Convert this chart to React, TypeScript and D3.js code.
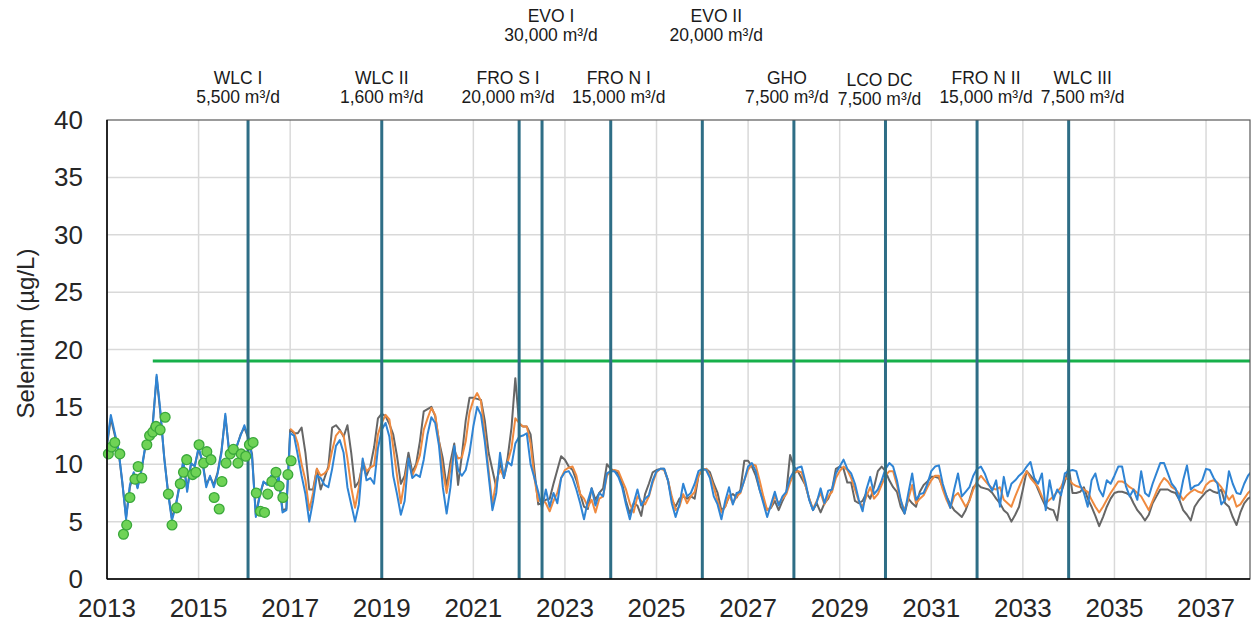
import React from 'react';
import * as d3 from 'd3';

// ---- Data -----------------------------------------------------------------

// Monthly modelled selenium (µg/L), first value = January of the start year
const SERIES_START_YEAR = 2013;
const ORANGE_START_YEAR = 2017;

const blueSeries = [
  11.8, 14.3, 12.8, 11.3, 8.5, 5.2, 8.2, 9.3, 7.9, 9.5, 11.5, 12.6, // 2013
  13.4, 17.8, 14.6, 10.5, 7.5, 5.1, 6.3, 8.1, 10.4, 7.6, 10.1, 9.8, // 2014
  11.5, 10.2, 8.0, 9.0, 8.0, 9.2, 11.0, 14.4, 11.0, 11.2, 11.6, 12.5, // 2015
  13.4, 12.4, 10.7, 5.4, 7.2, 8.5, 8.2, 9.0, 8.0, 8.9, 5.8, 6.0, // 2016
  12.7, 12.5, 10.8, 9.0, 7.4, 5.0, 6.8, 9.0, 8.8, 8.2, 8.0, 9.6, // 2017
  11.6, 12.1, 11.0, 8.0, 6.5, 5.0, 6.5, 10.5, 8.6, 8.8, 8.3, 11.4, // 2018
  13.0, 13.6, 12.4, 9.0, 7.4, 5.6, 6.8, 10.5, 8.8, 9.1, 8.9, 10.4, // 2019
  12.6, 14.1, 13.6, 11.6, 8.0, 5.7, 8.0, 11.6, 9.5, 9.0, 9.5, 11.0, // 2020
  13.3, 15.0, 14.3, 12.0, 9.0, 6.0, 7.5, 11.0, 8.8, 10.2, 9.9, 11.8, // 2021
  12.4, 12.5, 12.7, 10.0, 8.8, 7.6, 6.2, 7.8, 6.3, 7.5, 6.6, 8.8, // 2022
  9.3, 9.4, 8.8, 7.8, 6.6, 5.2, 6.8, 7.9, 6.4, 7.5, 7.2, 9.2, // 2023
  9.4, 9.4, 8.9, 8.0, 6.5, 5.2, 6.6, 7.8, 6.4, 7.0, 7.3, 8.6, // 2024
  9.4, 9.6, 9.6, 8.6, 6.6, 5.4, 6.5, 8.3, 7.2, 7.5, 8.3, 9.4, // 2025
  9.6, 9.5, 8.8, 7.2, 6.5, 5.2, 6.8, 8.0, 6.5, 7.5, 7.6, 8.6, // 2026
  9.8, 10.1, 9.4, 7.8, 6.6, 5.4, 6.5, 7.6, 6.4, 7.2, 7.6, 8.8, // 2027
  9.4, 9.7, 9.8, 8.5, 6.9, 6.0, 6.7, 7.9, 6.6, 7.7, 7.8, 9.2, // 2028
  9.8, 10.4, 9.6, 9.2, 8.3, 6.9, 5.9, 7.8, 8.9, 7.4, 7.8, 8.6, // 2029
  9.6, 10.1, 9.8, 8.6, 6.9, 5.7, 7.5, 9.2, 6.9, 7.4, 7.5, 8.3, // 2030
  9.4, 9.8, 9.9, 8.3, 7.2, 6.2, 7.8, 9.2, 7.2, 7.6, 8.0, 9.0, // 2031
  9.6, 9.8, 9.2, 8.3, 7.7, 8.6, 6.3, 8.9, 7.2, 8.3, 8.6, 9.0, // 2032
  9.3, 9.8, 10.2, 8.8, 8.3, 9.2, 6.0, 8.6, 6.9, 7.8, 7.3, 9.2, // 2033
  9.4, 9.5, 9.4, 8.2, 7.5, 6.3, 8.6, 9.2, 7.8, 7.2, 8.6, 8.3, // 2034
  9.0, 9.8, 9.8, 8.1, 7.2, 7.8, 6.9, 9.4, 7.5, 7.2, 8.3, 9.2, // 2035
  10.1, 10.1, 9.2, 8.3, 7.9, 6.9, 8.6, 9.9, 7.8, 8.1, 8.2, 8.6, // 2036
  9.6, 9.5, 8.8, 8.3, 6.5, 6.9, 9.4, 8.3, 7.5, 7.4, 8.3, 9.0, // 2037
  9.4, // 2038
];

const graySeries = [
  11.6, 14.0, 12.6, 11.2, 8.4, 5.4, 8.0, 9.2, 8.0, 9.4, 11.4, 12.8, // 2013
  13.6, 17.6, 14.4, 10.6, 7.6, 5.3, 6.4, 8.2, 10.2, 7.8, 10.0, 9.9, // 2014
  11.3, 10.3, 8.2, 8.9, 8.2, 9.3, 11.2, 14.2, 11.2, 11.0, 11.5, 12.6, // 2015
  13.2, 12.3, 10.9, 5.6, 7.3, 8.4, 8.3, 8.9, 8.1, 8.8, 6.0, 6.1, // 2016
  13.0, 12.7, 12.7, 13.2, 11.0, 7.8, 7.8, 9.6, 7.8, 8.8, 9.8, 13.2, // 2017
  13.4, 13.0, 12.4, 13.4, 11.0, 8.0, 8.5, 10.0, 9.0, 9.8, 11.5, 14.0, // 2018
  14.4, 14.2, 13.5, 12.6, 10.7, 8.3, 9.0, 11.0, 9.3, 10.0, 12.0, 14.6, // 2019
  14.8, 15.0, 14.2, 12.0, 10.5, 8.0, 10.2, 11.8, 8.2, 10.8, 13.8, 15.8, // 2020
  15.8, 15.7, 15.6, 13.8, 11.0, 9.5, 8.0, 10.2, 8.8, 10.6, 13.2, 17.5, // 2021
  13.5, 13.3, 13.3, 12.6, 9.5, 6.5, 6.6, 6.9, 7.0, 8.3, 9.5, 10.7, // 2022
  10.4, 9.8, 9.5, 8.6, 7.4, 6.3, 6.1, 7.9, 6.9, 7.5, 7.9, 10.0, // 2023
  9.6, 9.4, 9.2, 8.3, 6.8, 5.7, 6.6, 6.4, 5.5, 7.4, 8.3, 9.3, // 2024
  9.5, 9.6, 9.6, 8.6, 6.9, 6.3, 7.0, 7.2, 7.0, 7.2, 7.0, 9.0, // 2025
  9.5, 9.6, 9.3, 8.3, 7.5, 6.0, 6.3, 7.2, 7.4, 7.1, 7.8, 10.3, // 2026
  10.3, 9.8, 9.0, 7.8, 6.8, 6.0, 6.2, 6.8, 6.0, 6.8, 7.5, 10.8, // 2027
  9.8, 9.4, 8.8, 8.2, 7.0, 6.0, 6.6, 5.8, 6.6, 7.0, 7.8, 9.6, // 2028
  9.8, 9.6, 8.4, 8.4, 6.8, 6.6, 6.8, 7.5, 7.0, 8.0, 9.4, 9.8, // 2029
  9.4, 8.6, 8.0, 7.6, 6.3, 5.7, 7.0, 6.6, 6.3, 7.6, 8.2, 8.5, // 2030
  8.9, 8.9, 8.8, 8.0, 7.2, 6.5, 6.0, 5.7, 5.4, 6.0, 6.9, 8.0, // 2031
  8.3, 8.0, 7.9, 7.8, 7.5, 7.0, 6.6, 6.0, 5.7, 5.0, 5.6, 6.3, // 2032
  7.8, 9.4, 9.0, 8.6, 7.8, 7.0, 6.3, 6.1, 6.0, 5.1, 7.5, 8.5, // 2033
  9.8, 7.5, 7.5, 7.6, 8.0, 7.0, 6.3, 5.5, 4.6, 5.4, 6.3, 7.0, // 2034
  7.5, 7.6, 7.6, 7.5, 7.3, 6.6, 6.0, 5.6, 5.1, 5.6, 6.6, 7.2, // 2035
  7.8, 7.8, 7.8, 7.6, 7.5, 6.9, 6.0, 5.6, 5.1, 6.3, 6.8, 7.2, // 2036
  7.6, 7.8, 7.6, 7.5, 7.8, 6.6, 6.3, 5.4, 4.7, 5.8, 6.6, 7.0, // 2037
  7.2, // 2038
];

const orangeSeries = [
  13.1, 12.8, 11.8, 10.0, 8.6, 6.0, 7.5, 9.6, 9.0, 9.2, 9.6, 11.2, // 2017
  12.5, 12.9, 12.5, 10.5, 8.0, 6.2, 8.0, 10.3, 9.4, 9.7, 9.9, 12.6, // 2018
  13.6, 14.3, 13.9, 11.5, 9.0, 6.6, 8.6, 10.4, 9.0, 9.8, 10.8, 13.0, // 2019
  14.0, 14.9, 14.3, 12.0, 9.5, 7.5, 9.6, 11.2, 10.5, 10.6, 12.0, 14.5, // 2020
  15.6, 16.2, 15.5, 12.6, 9.5, 6.5, 8.6, 9.5, 8.9, 10.2, 11.4, 14.0, // 2021
  13.6, 13.3, 13.3, 11.8, 8.8, 6.8, 6.9, 6.6, 5.9, 6.8, 7.5, 8.8, // 2022
  9.5, 9.7, 9.8, 9.0, 7.4, 7.0, 6.3, 6.9, 5.8, 7.0, 7.2, 9.0, // 2023
  9.4, 9.5, 9.4, 8.6, 7.8, 6.6, 5.8, 7.2, 6.8, 6.5, 7.2, 8.4, // 2024
  9.3, 9.6, 9.5, 8.6, 7.2, 6.0, 6.3, 7.4, 6.6, 7.2, 7.6, 9.0, // 2025
  9.5, 9.6, 9.0, 8.0, 6.8, 5.8, 6.3, 7.3, 6.6, 7.2, 7.5, 8.6, // 2026
  9.5, 10.0, 9.9, 8.6, 7.2, 6.0, 6.3, 7.2, 6.6, 7.0, 7.4, 8.4, // 2027
  9.2, 9.4, 9.3, 8.2, 7.0, 6.1, 6.8, 7.5, 6.5, 7.2, 7.6, 8.8, // 2028
  9.4, 9.8, 9.5, 8.8, 7.8, 6.8, 6.3, 7.2, 8.0, 7.0, 7.4, 8.2, // 2029
  9.0, 9.4, 9.4, 8.2, 6.8, 6.0, 7.0, 8.2, 6.6, 7.0, 7.3, 8.0, // 2030
  8.6, 9.0, 9.0, 7.8, 6.9, 6.2, 7.2, 7.5, 6.9, 6.3, 6.8, 7.8, // 2031
  8.5, 9.0, 8.6, 8.2, 7.9, 7.8, 8.0, 6.9, 6.6, 6.3, 7.2, 8.0, // 2032
  8.8, 9.4, 8.8, 8.4, 8.0, 7.2, 6.6, 6.9, 7.2, 7.6, 8.0, 8.8, // 2033
  8.7, 8.3, 8.1, 8.0, 7.8, 7.6, 6.9, 6.3, 5.8, 6.3, 6.9, 7.5, // 2034
  8.0, 8.5, 8.5, 8.3, 8.0, 7.8, 7.5, 7.2, 6.6, 6.0, 6.8, 7.6, // 2035
  8.3, 8.8, 8.5, 8.0, 7.8, 7.4, 6.9, 7.3, 7.6, 7.8, 7.6, 7.5, // 2036
  8.2, 8.5, 8.6, 8.4, 8.0, 7.5, 6.9, 7.3, 6.3, 6.5, 7.0, 7.5, // 2037
  7.8, // 2038
];

// Measured samples (decimal year, µg/L)
const observedDates = [
  2013.03, 2013.10, 2013.17, 2013.28, 2013.36, 2013.43, 2013.50, 2013.61, 2013.68, 2013.76,
  2013.87, 2013.93, 2014.00, 2014.07, 2014.16, 2014.27, 2014.34, 2014.42, 2014.52, 2014.60,
  2014.67, 2014.74, 2014.87, 2014.94, 2015.01, 2015.11, 2015.18, 2015.27, 2015.34, 2015.45,
  2015.51, 2015.60, 2015.69, 2015.76, 2015.86, 2015.93, 2016.03, 2016.11, 2016.19, 2016.26,
  2016.35, 2016.44, 2016.51, 2016.60, 2016.69, 2016.76, 2016.84, 2016.95, 2017.02,
];
const observedValues = [
  10.9, 11.5, 11.9, 10.9, 3.9, 4.7, 7.1, 8.7, 9.8, 8.8,
  11.7, 12.5, 12.8, 13.3, 13.0, 14.1, 7.4, 4.7, 6.2, 8.3,
  9.3, 10.4, 9.1, 9.3, 11.7, 10.1, 11.1, 10.4, 7.1, 6.1,
  8.5, 10.1, 10.9, 11.3, 10.1, 10.9, 10.7, 11.7, 11.9, 7.5,
  5.9, 5.8, 7.4, 8.5, 9.3, 8.1, 7.1, 9.1, 10.3,
];

// Water quality guideline
const guidelineValue = 19;
const guidelineStart = 2014;

// Treatment facilities coming on line
const facilityNames = ['WLC I', 'WLC II', 'FRO S I', 'EVO I', 'FRO N I', 'EVO II', 'GHO', 'LCO DC', 'FRO N II', 'WLC III'];
const facilityCapacities = ['5,500 m³/d', '1,600 m³/d', '20,000 m³/d', '30,000 m³/d', '15,000 m³/d', '20,000 m³/d', '7,500 m³/d', '7,500 m³/d', '15,000 m³/d', '7,500 m³/d'];
const facilityDates = [2016.08, 2019.0, 2022.0, 2022.5, 2024.0, 2026.0, 2028.0, 2030.0, 2032.0, 2034.0];

const yTicks = [0, 5, 10, 15, 20, 25, 30, 35, 40];
const xTicks = [2013, 2015, 2017, 2019, 2021, 2023, 2025, 2027, 2029, 2031, 2033, 2035, 2037];

// ---- Layout ---------------------------------------------------------------

const W = 1252;
const H = 624;
const PLOT = { left: 107, right: 1250, top: 120, bottom: 579 };
const FONT = '"Liberation Sans", Arial, Helvetica, sans-serif';

// label placement: raised row for the EVO plants, small horizontal nudges
const labelRaised = [false, false, false, true, false, true, false, false, false, false];
const labelNudge = [-10, 0, -11, 9, 8, 14, -7, -6, 9, 14];
const labelDrop = [0, 0, 0, 0, 0, 0, 0, 2, 0, 0];

const COLORS = {
  blue: '#2f84d4',
  orange: '#ef8a3f',
  gray: '#666666',
  guide: '#17b04a',
  facility: '#2e6e86',
  grid: '#d9d9d9',
  dotFill: '#6fd356',
  dotStroke: '#3aa83a',
};

type Pt = { t: number; v: number };

const monthly = (values: number[], startYear: number): Pt[] =>
  values.map((v, i) => ({ t: startYear + i / 12, v }));

export default function App() {
  const x = d3.scaleLinear().domain([2013, 2037.96]).range([PLOT.left, PLOT.right]);
  const y = d3.scaleLinear().domain([0, 40]).range([PLOT.bottom, PLOT.top]);

  const line = d3
    .line<Pt>()
    .x((d) => x(d.t))
    .y((d) => y(d.v));

  const blue = monthly(blueSeries, SERIES_START_YEAR);
  const gray = monthly(graySeries, SERIES_START_YEAR);
  const orange = monthly(orangeSeries, ORANGE_START_YEAR);

  return (
    <svg
      width={W}
      height={H}
      viewBox={`0 0 ${W} ${H}`}
      style={{ position: 'absolute', left: 0, top: 0, background: '#fff' }}
      fontFamily={FONT}
    >
      <defs>
        <clipPath id="plot-clip">
          <rect x={PLOT.left} y={PLOT.top - 2} width={PLOT.right - PLOT.left} height={PLOT.bottom - PLOT.top + 4} />
        </clipPath>
      </defs>

      {/* grid */}
      <g stroke={COLORS.grid} strokeWidth={1.5}>
        {yTicks.slice(1, -1).map((t) => (
          <line key={`gy${t}`} x1={PLOT.left} x2={PLOT.right} y1={y(t)} y2={y(t)} />
        ))}
        {xTicks.slice(1).map((t) => (
          <line key={`gx${t}`} x1={x(t)} x2={x(t)} y1={PLOT.top} y2={PLOT.bottom} />
        ))}
      </g>

      {/* guideline */}
      <line
        x1={x(guidelineStart)}
        x2={PLOT.right}
        y1={y(guidelineValue)}
        y2={y(guidelineValue)}
        stroke={COLORS.guide}
        strokeWidth={3}
      />

      {/* modelled series */}
      <g clipPath="url(#plot-clip)" fill="none" strokeLinejoin="round">
        <path d={line(gray) ?? ''} stroke={COLORS.gray} strokeWidth={2} />
        <path d={line(orange) ?? ''} stroke={COLORS.orange} strokeWidth={2} />
        <path d={line(blue) ?? ''} stroke={COLORS.blue} strokeWidth={2} />
      </g>

      {/* facility start-up markers */}
      <g stroke={COLORS.facility} strokeWidth={3}>
        {facilityDates.map((d, i) => (
          <line key={`f${i}`} x1={x(d)} x2={x(d)} y1={PLOT.top} y2={PLOT.bottom} />
        ))}
      </g>

      {/* observed samples */}
      <g fill={COLORS.dotFill} stroke={COLORS.dotStroke} strokeWidth={1.3}>
        {observedDates.map((d, i) => (
          <circle key={`o${i}`} cx={x(d)} cy={y(observedValues[i])} r={4.9} />
        ))}
      </g>

      {/* frame */}
      <rect
        x={PLOT.left}
        y={PLOT.top}
        width={PLOT.right - PLOT.left}
        height={PLOT.bottom - PLOT.top}
        fill="none"
        stroke="#595959"
        strokeWidth={1.2}
      />
      <line x1={PLOT.left} x2={PLOT.left} y1={PLOT.top} y2={PLOT.bottom} stroke="#000" strokeWidth={1.5} />
      <line x1={PLOT.left} x2={PLOT.right} y1={PLOT.bottom} y2={PLOT.bottom} stroke="#000" strokeWidth={1.5} />

      {/* y axis labels */}
      <g fontSize={26} fill="#262626" textAnchor="end">
        {yTicks.map((t) => (
          <text key={`ty${t}`} x={83} y={y(t)} dy="0.35em">
            {t}
          </text>
        ))}
      </g>
      <text
        transform={`translate(34, ${(PLOT.top + PLOT.bottom) / 2 - 16}) rotate(-90)`}
        textAnchor="middle"
        fontSize={24}
        fill="#262626"
      >
        Selenium (µg/L)
      </text>

      {/* x axis labels */}
      <g fontSize={26} fill="#262626" textAnchor="middle">
        {xTicks.map((t) => (
          <text key={`tx${t}`} x={x(t)} y={617}>
            {t}
          </text>
        ))}
      </g>

      {/* facility labels */}
      <g fontSize={17.5} fill="#1a1a1a" textAnchor="middle">
        {facilityNames.map((name, i) => {
          const cx = x(facilityDates[i]) + labelNudge[i];
          const base = (labelRaised[i] ? 22 : 84) + labelDrop[i];
          return (
            <text key={`l${i}`} x={cx} y={base}>
              <tspan x={cx}>{name}</tspan>
              <tspan x={cx} dy={19}>
                {facilityCapacities[i]}
              </tspan>
            </text>
          );
        })}
      </g>
    </svg>
  );
}
